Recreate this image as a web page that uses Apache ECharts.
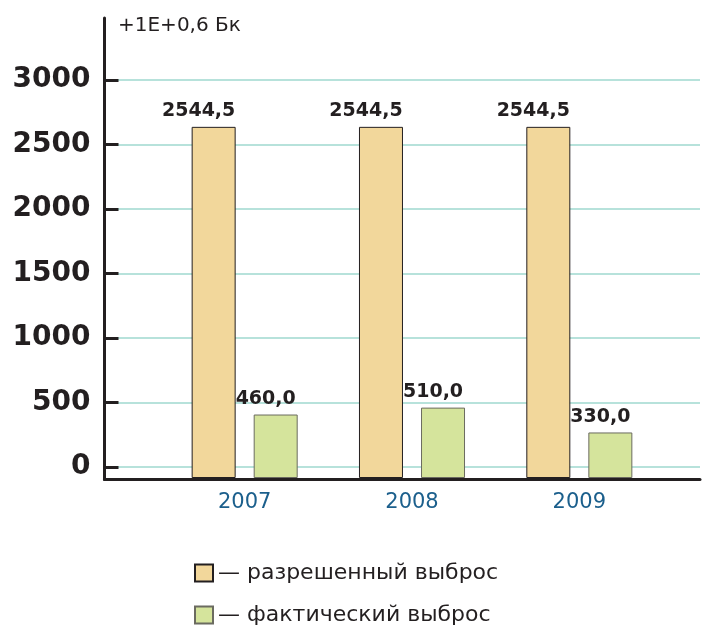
<!DOCTYPE html>
<html>
<head>
<meta charset="utf-8">
<script src="https://cdn.jsdelivr.net/npm/echarts@6/dist/echarts.min.js"></script>
<style>
  html, body { margin: 0; padding: 0; background: #fff; }
  #chart { width: 702px; height: 626px; }
</style>
</head>
<body>
<div id="chart"></div>
<script>
// данные
const years = ["2007", "2008", "2009"];
const allowed = [2544.5, 2544.5, 2544.5];
const actual = [460.0, 510.0, 330.0];
const yTicks = [0, 3000, 500]; // min, max, шаг
const seriesNames = ["— разрешенный выброс", "— фактический выброс"];
const unitText = "+1E+0,6 Бк";

const textColor = "#231f20";
const fmt = (v) => v.toFixed(1).replace(".", ",");

const chart = echarts.init(document.getElementById("chart"));

// подписи в оригинале сдвинуты левее центра столбца
const barLabel = (dx) => ({
  show: true,
  position: "top",
  distance: 6,
  offset: [dx, 0],
  fontFamily: "DejaVu Sans",
  fontWeight: "bold",
  fontSize: 19,
  color: textColor,
  formatter: (p) => fmt(p.value),
});

// по одной легенде на строку
const legendRow = (name, top) => ({
  left: 189,
  top: top,
  itemWidth: 18,
  itemHeight: 17,
  itemTextGap: 8,
  icon: "rect",
  textStyle: { fontFamily: "DejaVu Sans", fontSize: 22, color: textColor },
  data: [name],
});

const option = {
  animation: false,
  textStyle: { fontFamily: "DejaVu Sans" },
  title: {
    text: unitText,
    left: 113,
    top: 11,
    textStyle: { fontFamily: "DejaVu Sans", fontWeight: "normal", fontSize: 20, color: textColor },
  },
  legend: [
    legendRow(seriesNames[0], 557),
    legendRow(seriesNames[1], 599),
  ],
  grid: [
    // рамка: оси
    { left: 104.5, right: 2, top: 18, bottom: 146.5 },
    // сетка и подписи оси Y
    { left: 104.5, right: 2, top: 80, bottom: 159 },
    // столбцы
    { left: 161, right: 39, top: 64, bottom: 148 },
  ],
  xAxis: [
    {
      gridIndex: 0, type: "value", min: 0, max: 1,
      axisLine: { show: true, onZero: false, lineStyle: { color: textColor, width: 3 } },
      axisTick: { show: false }, axisLabel: { show: false }, splitLine: { show: false },
    },
    { gridIndex: 1, type: "value", show: false },
    {
      gridIndex: 2, type: "category", data: years,
      axisLine: { show: false }, axisTick: { show: false },
      axisLabel: { margin: 14, fontFamily: "DejaVu Sans", fontSize: 21, color: "#1b5f8c" },
    },
  ],
  yAxis: [
    {
      gridIndex: 0, type: "value", min: 0, max: 1,
      axisLine: { show: true, onZero: false, lineStyle: { color: textColor, width: 3 } },
      axisTick: { show: false }, axisLabel: { show: false }, splitLine: { show: false },
    },
    {
      gridIndex: 1, type: "value", min: yTicks[0], max: yTicks[1], interval: yTicks[2],
      axisLine: { show: false },
      axisTick: { show: true, inside: true, length: 14, lineStyle: { color: textColor, width: 3 } },
      axisLabel: {
        margin: 14, fontFamily: "DejaVu Sans", fontWeight: "bold", fontSize: 28, color: textColor,
        formatter: (v) => String(v),
      },
      splitLine: { show: true, lineStyle: { color: "#9fd9cf", width: 1.5 } },
    },
    { gridIndex: 2, type: "value", min: yTicks[0], max: yTicks[1], show: false },
  ],
  series: [
    {
      name: seriesNames[0],
      type: "bar",
      xAxisIndex: 2,
      yAxisIndex: 2,
      data: allowed,
      barWidth: 44,
      barGap: "41%",
      itemStyle: { color: "#f2d79b", borderColor: textColor, borderWidth: 1 },
      label: barLabel(-15),
    },
    {
      name: seriesNames[1],
      type: "bar",
      xAxisIndex: 2,
      yAxisIndex: 2,
      data: actual,
      barWidth: 44,
      itemStyle: { color: "#d5e49c", borderColor: "#6b6b60", borderWidth: 1 },
      label: barLabel(-10),
    },
  ],
};

chart.setOption(option);
</script>
</body>
</html>
